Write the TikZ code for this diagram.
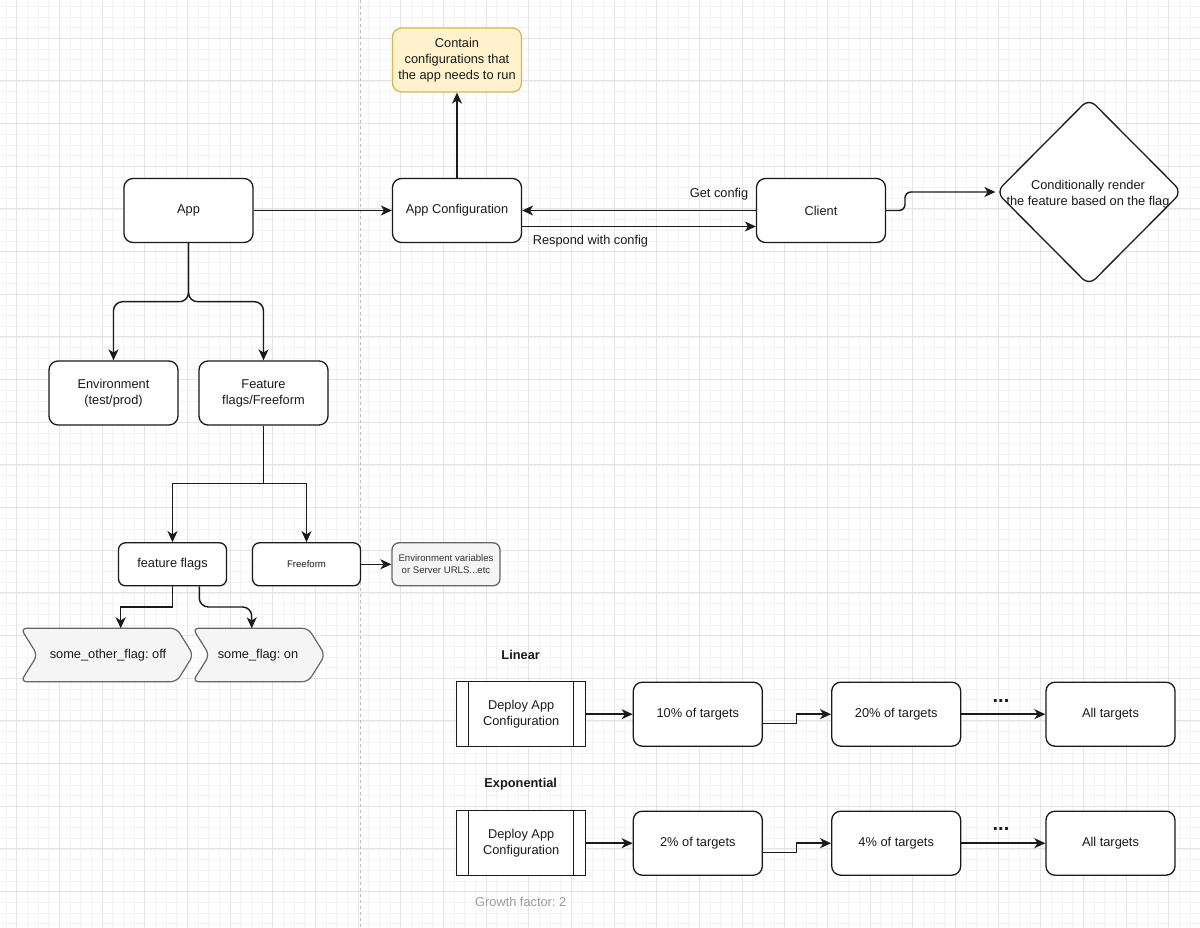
\documentclass[tikz,border=0pt]{standalone}
\usepackage{fontspec}
\setmainfont{Liberation Sans}
\usetikzlibrary{arrows.meta,shapes.geometric}
\definecolor{grmin}{HTML}{F3F3F3}
\definecolor{grmaj}{HTML}{E4E4E4}
\definecolor{ybox}{HTML}{FFF2CC}
\definecolor{yline}{HTML}{D6B656}
\definecolor{gbox}{HTML}{F5F5F5}
\definecolor{gline}{HTML}{666666}
\definecolor{gtext}{HTML}{333333}
\definecolor{ink}{HTML}{1A1A1A}
\definecolor{faint}{HTML}{9A9A9A}
\definecolor{dashc}{HTML}{BBBBBB}
\frenchspacing
\begin{document}
\begin{tikzpicture}[x=1pt,y=-1pt,
  every node/.style={font=\fontsize{12.8}{16}\selectfont, text=ink},
  box/.style={draw=ink, line width=1.3pt, rounded corners=9pt, minimum width=129pt, minimum height=64pt, inner sep=0pt, align=center, fill=white},
  smallbox/.style={box, minimum width=108pt, minimum height=43pt, rounded corners=7pt},
  smallfont/.style={font=\fontsize{9.6}{12}\selectfont},
  procbox/.style={draw=ink, line width=1.3pt, minimum width=129pt, minimum height=65pt, inner sep=0pt, align=center, fill=white},
  arr/.style={draw=ink, line width=1.45pt, -{Stealth[length=11pt,width=10pt,inset=3.2pt]}},
  lbl/.style={inner sep=0pt},
  chev/.style={draw=gline, fill=gbox, line width=1.2pt, rounded corners=6pt},
  dotsf/.style={font=\fontsize{20}{20}\selectfont\bfseries, inner sep=0pt},
  minor/.style={draw=grmin, line width=0.7pt},
  major/.style={draw=grmaj, line width=1pt}
]
\useasboundingbox (0,0) rectangle (1200,928);
\fill[white] (0,0) rectangle (1200,928);
% grid
\foreach \i in {0,...,112} {
  \pgfmathsetmacro\xx{6.03+\i*10.667}
  \draw[minor] (\xx,0) -- (\xx,928);
}
\foreach \i in {0,...,86} {
  \pgfmathsetmacro\yy{6.3+\i*10.667}
  \draw[minor] (0,\yy) -- (1200,\yy);
}
\foreach \i in {0,...,28} {
  \pgfmathsetmacro\xx{16.7+\i*42.667}
  \draw[major] (\xx,0) -- (\xx,928);
}
\foreach \i in {0,...,21} {
  \pgfmathsetmacro\yy{38.3+\i*42.667}
  \draw[major] (0,\yy) -- (1200,\yy);
}
\draw[dashc, line width=1pt, dash pattern=on 3pt off 3pt] (360,0) -- (360,928);

% top part
\node[box, draw=yline, fill=ybox] (cfg) at (457,60) {Contain\\configurations that\\the app needs to run};
\node[box] (app) at (188.5,210.5) {App};
\node[box] (appc) at (457,210.5) {App Configuration};
\node[box] (client) at (821,210.5) {Client};
\node[diamond, draw=ink, line width=1.3pt, fill=white, rounded corners=9pt, minimum width=186pt, minimum height=187pt, inner sep=0pt] (cond) at (1089,192) {};
\node[align=center] (condt) at (1088,194.5) {Conditionally render\\the feature based on the flag};

\draw[arr] (app.east) -- (appc.west);
\draw[arr] (appc.north) -- (cfg.south);
\draw[arr] (client.west) -- (appc.east);
\draw[arr] ([yshift=-16pt]appc.east) -- ([yshift=-16pt]client.west);
\node[lbl] (lget) at (719,194) {Get config};
\node[lbl] (lresp) at (590.5,241.5) {Respond with config};
\draw[arr, rounded corners=6pt] (client.east) -- (905,210.5) -- (905,192) -- (cond.west);

% left tree
\node[box] (env) at (113.5,393) {Environment\\(test/prod)};
\node[box] (feat) at (263.5,393) {Feature\\flags/Freeform};
\draw[arr, rounded corners=9pt] (app.south) -- (188.5,301.7) -| (env.north);
\draw[arr, rounded corners=9pt] (app.south) -- (188.5,301.7) -| (feat.north);

\node[smallbox] (ff) at (172.5,564.3) {feature flags};
\node[smallbox, smallfont] (free) at (306.5,564.3) {Freeform};
\node[smallbox, smallfont, draw=gline, fill=gbox, text=gtext, align=center] (ev) at (446,564.3) {Environment variables\\or Server URLS...etc};
\draw[arr] (feat.south) -- (263.5,483.3) -| (ff.north);
\draw[arr] (feat.south) -- (263.5,483.3) -| (free.north);
\draw[arr] (free.east) -- (ev.west);

% chevrons
\draw[chev] (98,628.3) -- (176.7,628.3) -- (193.3,655) -- (176.7,681.7) -- (20.7,681.7) -- (37.4,655) -- (20.7,628.3) -- (98,628.3);
\draw[chev] (250,628.3) -- (308.3,628.3) -- (325,655) -- (308.3,681.7) -- (192.7,681.7) -- (209.4,655) -- (192.7,628.3) -- (250,628.3);
\node (c1) at (108,655) {some\_other\_flag: off};
\node (c2) at (258,655) {some\_flag: on};
\coordinate (c1top) at (120.7,628.3);
\coordinate (c2top) at (251.7,628.3);
\draw[arr] (ff.south) -- (172.5,607) -| (c1top);
\draw[arr, rounded corners=9pt] ([xshift=26.8pt]ff.south) -- (199.3,607) -| (c2top);

% linear
\node[font=\fontsize{12.8}{16}\selectfont\bfseries] (lin) at (520.7,655) {Linear};
\node[procbox] (d1) at (521.2,714.2) {Deploy App\\Configuration};
\draw[ink, line width=1.3pt] ([xshift=12.6pt]d1.north west) -- ([xshift=12.6pt]d1.south west);
\draw[ink, line width=1.3pt] ([xshift=-12.6pt]d1.north east) -- ([xshift=-12.6pt]d1.south east);
\node[box] (l1) at (697.8,714.2) {10\% of targets};
\node[box] (l2) at (896.2,714.2) {20\% of targets};
\node[box] (l3) at (1110.5,714.2) {All targets};
\node[dotsf] (dots1) at (1001,700.7) {...};
\draw[arr] (d1.east) -- (l1.west);
\draw[arr] ([yshift=-9.2pt]l1.east) -- (796.7,723.4) |- (l2.west);
\draw[arr] (l2.east) -- (l3.west);

% exponential
\node[font=\fontsize{12.8}{16}\selectfont\bfseries] (expo) at (520.7,784) {Exponential};
\node[procbox] (d2) at (521.2,843.2) {Deploy App\\Configuration};
\draw[ink, line width=1.3pt] ([xshift=12.6pt]d2.north west) -- ([xshift=12.6pt]d2.south west);
\draw[ink, line width=1.3pt] ([xshift=-12.6pt]d2.north east) -- ([xshift=-12.6pt]d2.south east);
\node[box] (e1) at (697.8,843.2) {2\% of targets};
\node[box] (e2) at (896.2,843.2) {4\% of targets};
\node[box] (e3) at (1110.5,843.2) {All targets};
\node[dotsf] (dots2) at (1001,829) {...};
\draw[arr] (d2.east) -- (e1.west);
\draw[arr] ([yshift=-9.2pt]e1.east) -- (796.7,852.4) |- (e2.west);
\draw[arr] (e2.east) -- (e3.west);
\node[text=faint] (gf) at (520.7,902.3) {Growth factor: 2};
\end{tikzpicture}
\end{document}
